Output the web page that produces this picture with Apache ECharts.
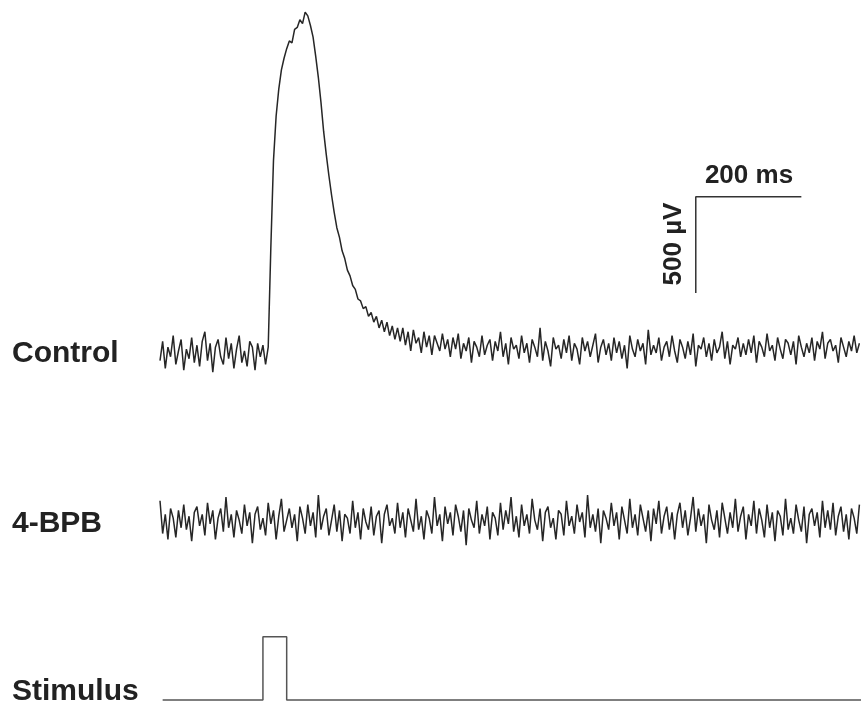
<!DOCTYPE html>
<html>
<head>
<meta charset="utf-8">
<script src="https://cdn.jsdelivr.net/npm/echarts@6/dist/echarts.min.js"></script>
<style>
html,body{margin:0;padding:0;background:#ffffff;}
#chart{width:861px;height:709px;}
</style>
</head>
<body>
<div id="chart"></div>
<script>
// sampling of the traces (ms)
var traceStartMs = -195;
var sampleStepMs = 5;
var timeAxisMin = -195;
var timeAxisMax = 1133;

// Control trace (µV), one value every 5 ms from -195 ms
var controlValues = [
  -40, 60, -80, 30, -20, 90, -60, 10, 70, -90, 20, -30, 80, -50, 40, -70, 60, 110, -40, 50,
  -100, 30, 70, -20, -60, 80, -30, 50, -80, 20, 90, -50, 10, -70, 60, 30, -90, 50, -20, 40, -60,
  30, 550, 1000, 1230, 1370, 1470, 1530, 1580, 1620, 1610, 1680, 1690, 1730, 1710, 1770, 1750,
  1700, 1640, 1540, 1430, 1300, 1150, 1030, 920, 820, 730, 650, 600, 530, 490, 430, 400, 350,
  330, 280, 270, 230, 240, 190, 210, 160, 190, 130, 170, 110, 160, 90, 140, 70, 130, 60,
  130, 40, 110, 10, 120, 50, 80, 0, 110, 30,
  90, -10, 90, 50, 10, 100, 20, 70, -20, 80,
  20, 100, -30, 50, 10, 80, -50, 60, 30, -20,
  90, -10, 40, 70, -40, 60, 10, 110, -20, 50,
  -60, 80, 20, 40, -30, 90, 0, 50, -50, 70,
  30, -20, 130, -40, 60, 10, -70, 80, 20, 40,
  -30, 70, 0, 90, -40, 50, 20, -60, 80, 10,
  60, -20, 40, 100, -50, 30, 70, -10, 50, -40,
  80, 0, 60, -30, 40, -80, 90, 20, -20, 70,
  10, 50, -60, 120, -10, 40, 0, 80, -40, 30,
  60, -20, 90, 10, -50, 70, 30, -30, 60, -10,
  100, -70, 40, 20, 80, -20, 50, -40, 70, 0,
  30, 110, -30, 60, -60, 40, 20, 80, -20, 50,
  -10, 70, 0, 90, -50, 60, 30, -20, 100, 10,
  40, -40, 80, 20, -30, 70, 50, -10, 60, -60,
  90, 30, -20, 50, 0, 80, -40, 60, 20, 110,
  -30, 50, 70, 10, 40, -50, 80, 30, -20, 60, 10, 90, 0, 50
];

// 4-BPB trace (µV), one value every 5 ms from -195 ms
var bpbValues = [
  110, -60, 40, -90, 70, 20, -80, 60, -30, 90,
  -40, 30, -100, 50, 80, -20, 40, -70, 100, -10,
  60, -90, 20, 70, -50, 130, -30, 40, -80, 60,
  10, -60, 90, -20, 50, -110, 40, 80, -40, 20,
  -70, 100, -10, 60, -90, 30, 120, -50, 10, 70,
  -30, 40, -100, 80, 20, -60, 90, -20, 50, -80,
  140, -40, 30, 70, -70, 10, 90, -50, 60, -100,
  40, 20, -60, 110, -30, 50, -90, 70, 0, -40,
  80, -70, 30, 60, -110, 40, 90, -20, 20, -60,
  100, -30, 50, -80, 70, 10, -50, 120, -40, 30,
  -90, 60, 20, -60, 130, -20, 40, -100, 80, -10,
  50, -70, 90, 30, -50, 60, -120, 70, 10, -30,
  110, -60, 40, -20, 80, -90, 50, 20, -70, 100,
  -40, 60, -10, 130, -50, 30, -80, 90, -20, 40,
  -60, 120, 10, -40, 70, -100, 50, 80, -30, 20,
  -90, 60, 40, -70, 110, -20, 30, -60, 90, 0,
  50, -80, 140, -30, 40, -50, 70, -110, 60, 20,
  -40, 100, -20, 50, -90, 80, 10, -60, 120, -30,
  40, -70, 90, 20, -50, 60, -100, 70, -10, 110,
  -60, 30, 80, -40, 50, -90, 40, 100, -30, 60,
  -70, 20, 130, -50, 70, -20, 40, -110, 90, 10,
  -40, 60, -80, 100, 20, -60, 50, -30, 120, -50,
  30, 80, -90, 40, -20, 110, -60, 70, 10, -80,
  90, -30, 50, -100, 60, 30, -70, 120, -40, 20,
  -60, 90, 10, -50, 80, -110, 40, 70, -20, 50,
  -80, 110, -30, 60, -40, 100, -70, 30, 80, -50,
  40, -90, 70, 20, -60, 90
];

// Stimulus pulse (time ms, level)
var stimulusTimes = [-190, 0, 0, 45, 45, 1133];
var stimulusLevels = [0, 0, 1, 1, 0, 0];

// Scale bar: 200 ms horizontal, 500 µV vertical
var scaleBarTimes = [820, 820, 1020];
var scaleBarVolts = [311.5, 811.5, 811.5];

// Labels
var traceLabels = ['Control', '4-BPB', 'Stimulus'];
var scaleTimeLabel = '200 ms';
var scaleVoltLabel = '500 \u00B5V';

function toPairs(values) {
  return values.map(function (v, i) { return [traceStartMs + i * sampleStepMs, v]; });
}
function zipPairs(xs, ys) {
  return xs.map(function (x, i) { return [x, ys[i]]; });
}

var chart = echarts.init(document.getElementById('chart'), null, {renderer: 'canvas'});

var gridLeft = 160, gridWidth = 701;
var xAxisBase = {type: 'value', min: timeAxisMin, max: timeAxisMax, show: false};
var labelFont = {fontFamily: 'Liberation Sans, Arial, sans-serif', fontWeight: 'bold', fill: '#222222'};
var traceStyle = {color: '#262626', width: 1.5};

var option = {
  backgroundColor: '#ffffff',
  animation: false,
  grid: [
    {left: gridLeft, width: gridWidth, top: 0.5, height: 410.2, show: false},
    {left: gridLeft, width: gridWidth, top: 464.2, height: 115.6, show: false},
    {left: gridLeft, width: gridWidth, top: 636.7, height: 63.3, show: false}
  ],
  xAxis: [
    Object.assign({gridIndex: 0}, xAxisBase),
    Object.assign({gridIndex: 1}, xAxisBase),
    Object.assign({gridIndex: 2}, xAxisBase)
  ],
  yAxis: [
    {gridIndex: 0, type: 'value', min: -300, max: 1830, show: false},
    {gridIndex: 1, type: 'value', min: -300, max: 300, show: false},
    {gridIndex: 2, type: 'value', min: 0, max: 1, show: false}
  ],
  series: [
    {
      name: traceLabels[0], type: 'line', xAxisIndex: 0, yAxisIndex: 0,
      data: toPairs(controlValues), showSymbol: false,
      lineStyle: traceStyle, clip: false
    },
    {
      name: traceLabels[1], type: 'line', xAxisIndex: 1, yAxisIndex: 1,
      data: toPairs(bpbValues), showSymbol: false,
      lineStyle: traceStyle, clip: false
    },
    {
      name: traceLabels[2], type: 'line', xAxisIndex: 2, yAxisIndex: 2,
      data: zipPairs(stimulusTimes, stimulusLevels), showSymbol: false,
      lineStyle: {color: '#555555', width: 1.5}, clip: false
    },
    {
      name: 'scale', type: 'line', xAxisIndex: 0, yAxisIndex: 0,
      data: zipPairs(scaleBarTimes, scaleBarVolts), showSymbol: false,
      lineStyle: {color: '#333333', width: 1.5}, clip: false
    }
  ],
  graphic: [
    {type: 'text', left: 12, top: 339, style: Object.assign({text: traceLabels[0], fontSize: 30}, labelFont)},
    {type: 'text', left: 12, top: 509, style: Object.assign({text: traceLabels[1], fontSize: 30}, labelFont)},
    {type: 'text', left: 12, top: 677, style: Object.assign({text: traceLabels[2], fontSize: 30}, labelFont)},
    {type: 'text', x: 749, y: 176, style: Object.assign({text: scaleTimeLabel, fontSize: 26, align: 'center', verticalAlign: 'middle'}, labelFont)},
    {type: 'text', x: 674, y: 244, rotation: Math.PI / 2, style: Object.assign({text: scaleVoltLabel, fontSize: 26, align: 'center', verticalAlign: 'middle'}, labelFont)}
  ]
};
chart.setOption(option);
</script>
</body>
</html>
